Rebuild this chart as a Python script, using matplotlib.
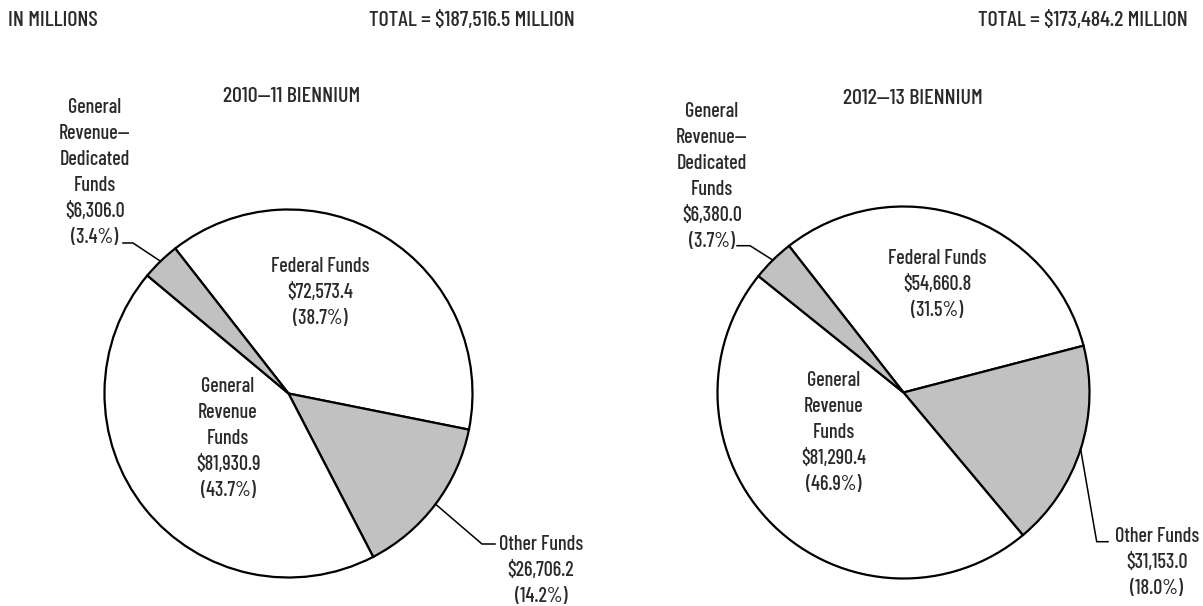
import numpy as np
import matplotlib
matplotlib.use("Agg")
import matplotlib.pyplot as plt
from matplotlib import font_manager

# data
categories = ["Federal Funds", "Other Funds", "General Revenue Funds",
              "General Revenue\u2014Dedicated Funds"]
values_1011 = [72573.4, 26706.2, 81930.9, 6306.0]
values_1213 = [54660.8, 31153.0, 81290.4, 6380.0]
titles = ["2010\u201411 BIENNIUM", "2012\u201413 BIENNIUM"]
label_lines = {
    "Federal Funds": ["Federal Funds"],
    "Other Funds": ["Other Funds"],
    "General Revenue Funds": ["General", "Revenue", "Funds"],
    "General Revenue\u2014Dedicated Funds": ["General", "Revenue\u2014", "Dedicated", "Funds"],
}
colors = ["white", "#c1c1c1", "white", "#c1c1c1"]

# pick a condensed face close to the original's
names = {f.name for f in font_manager.fontManager.ttflist}
font = "DejaVu Sans"
for cand in ["Barlow Condensed", "Roboto Condensed", "Archivo Narrow", "PT Sans Narrow",
             "IBM Plex Sans Condensed", "Liberation Sans Narrow"]:
    if cand in names:
        font = cand
        break
plt.rcParams["font.family"] = [font, "DejaVu Sans"]
plt.rcParams["font.weight"] = "medium"
txt_color = "#2a2a2a"
fs = 14.5      # slice labels
fs_head = 15.8 # header / titles

W, H = 1203, 606
fig = plt.figure(figsize=(W / 100, H / 100), dpi=100)
ax = fig.add_axes([0, 0, 1, 1])


def Y(y):
    return H - y


def draw_lines(lines, cx, y0, step=26.0, ha="center"):
    for i, s in enumerate(lines):
        ax.text(cx, Y(y0 + i * step), s, ha=ha, va="center", fontsize=fs, color=txt_color)


def draw_pie(values, title, center, radius, title_xy, lab_pos, leaders):
    total = sum(values)
    wedges, _ = ax.pie(values, colors=colors, startangle=128, counterclock=False,
                       center=(center[0], Y(center[1])), radius=radius,
                       wedgeprops=dict(edgecolor="black", linewidth=1.6))
    ax.text(title_xy[0], Y(title_xy[1]), title, ha="center", va="center",
            fontsize=fs_head, color=txt_color)
    for k, (cat, v) in enumerate(zip(categories, values)):
        lines = label_lines[cat] + ["${:,.1f}".format(v), "({:.1f}%)".format(100 * v / total)]
        cx, y0 = lab_pos[k]
        draw_lines(lines, cx, y0)
    # leader lines for the small/outside labels
    for k, pts in leaders.items():
        w = wedges[k]
        mid = np.deg2rad((w.theta1 + w.theta2) / 2)
        ax_x = center[0] + radius * np.cos(mid)
        ax_y = Y(center[1]) + radius * np.sin(mid)
        xs = [ax_x] + [p[0] for p in pts]
        ys = [ax_y] + [Y(p[1]) for p in pts]
        ax.plot(xs, ys, color="black", linewidth=1.1, solid_joinstyle="miter")
    return total


t1 = draw_pie(values_1011, titles[0], (288.5, 393.5), 184, (291.5, 96.5),
              [(320, 267), (541, 544.5), (228, 387), (95, 107.5)],
              {1: [(482, 544), (495, 544)], 3: [(133, 243), (123, 243)]})
t2 = draw_pie(values_1213, titles[1], (903.5, 392.5), 186, (913, 99),
              [(937.5, 259), (1157, 536.5), (834, 380), (712, 111.5)],
              {1: [(1096.7, 541.7), (1108, 541.7)], 3: [(750, 245.7), (737, 245.7)]})

ax.text(8, Y(20), "IN MILLIONS", ha="left", va="center", fontsize=fs_head, color=txt_color)
ax.text(472, Y(20), "TOTAL = ${:,.1f} MILLION".format(t1), ha="center", va="center",
        fontsize=fs_head, color=txt_color)
ax.text(1188, Y(20), "TOTAL = ${:,.1f} MILLION".format(t2), ha="right", va="center",
        fontsize=fs_head, color=txt_color)

ax.set_xlim(0, W)
ax.set_ylim(0, H)
ax.set_aspect("equal")
ax.axis("off")

fig.savefig("out.png", dpi=100)
